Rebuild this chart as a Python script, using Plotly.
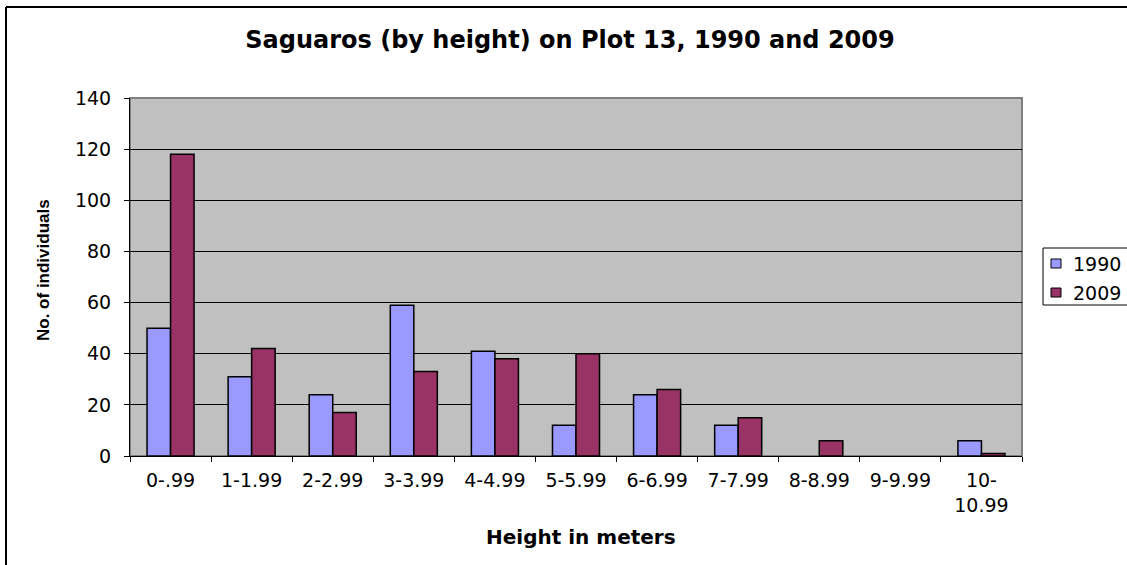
import plotly.graph_objects as go

categories = ["0-.99", "1-1.99", "2-2.99", "3-3.99", "4-4.99", "5-5.99",
              "6-6.99", "7-7.99", "8-8.99", "9-9.99", "10-<br>10.99"]
values_1990 = [50, 31, 24, 59, 41, 12, 24, 12, 0, 0, 6]
values_2009 = [118, 42, 17, 33, 38, 40, 26, 15, 6, 0, 1]
y_ticks = [0, 20, 40, 60, 80, 100, 120, 140]
series_names = ["1990", "2009"]
series_colors = ["#9999FF", "#993366"]

W, H = 1127, 565
L, R, T, B = 130, 105, 98, 109
pw, ph = W - L - R, H - T - B

def px(x):
    return (x - L) / pw

def py(y):
    return (H - B - y) / ph

WIDE = "DejaVu Sans, Verdana, sans-serif"
ARIAL = "Liberation Sans, Arial, sans-serif"

fig = go.Figure()
for name, vals, col in zip(series_names, [values_1990, values_2009], series_colors):
    # zero-count bins are drawn as empty (no outline stub), as in the original
    shown = [v if v != 0 else None for v in vals]
    fig.add_trace(go.Bar(name=name, x=categories, y=shown,
                         marker=dict(color=col, line=dict(color="black", width=1.5))))

shapes = [
    dict(type="rect", xref="paper", yref="paper", x0=0, x1=1, y0=0, y1=1,
         line=dict(color="#808080", width=2), fillcolor="rgba(0,0,0,0)", layer="below"),
    # outer chart border (left and top visible)
    dict(type="line", xref="paper", yref="paper", x0=px(6), x1=px(W + 20), y0=py(7), y1=py(7),
         line=dict(color="black", width=2)),
    dict(type="line", xref="paper", yref="paper", x0=px(6), x1=px(6), y0=py(7), y1=py(H + 20),
         line=dict(color="black", width=2)),
    # legend box
    dict(type="rect", xref="paper", yref="paper", x0=px(1043), x1=px(W + 20), y0=py(248), y1=py(305),
         line=dict(color="black", width=1), fillcolor="white"),
]
annotations = [
    dict(text="<b>Height in meters</b>", xref="paper", yref="paper", x=px(581), y=py(537),
         xanchor="center", yanchor="middle", showarrow=False, font=dict(family=WIDE, size=20)),
    dict(text="<b>No. of individuals</b>", xref="paper", yref="paper", x=px(43), y=py(270),
         xanchor="center", yanchor="middle", showarrow=False, textangle=-90,
         font=dict(family=ARIAL, size=17)),
]
for i, (name, col) in enumerate(zip(series_names, series_colors)):
    cy = 263.5 + i * 29
    shapes.append(dict(type="rect", xref="paper", yref="paper", x0=px(1051), x1=px(1061),
                       y0=py(cy - 4.5), y1=py(cy + 4.5),
                       line=dict(color="black", width=1), fillcolor=col))
    annotations.append(dict(text=name, xref="paper", yref="paper", x=px(1071), y=py(cy),
                            xanchor="left", yanchor="middle", showarrow=False,
                            font=dict(family=WIDE, size=19)))

fig.update_layout(
    width=W, height=H,
    margin=dict(l=L, r=R, t=T, b=B, autoexpand=False),
    paper_bgcolor="white",
    plot_bgcolor="#C0C0C0",
    font=dict(family=WIDE, color="black", size=19),
    barmode="group", bargap=0.42, bargroupgap=0,
    title=dict(text="<b>Saguaros (by height) on Plot 13, 1990 and 2009</b>",
               x=px(570), xref="paper", xanchor="center",
               y=1 - 40 / H, yanchor="middle",
               font=dict(family=WIDE, size=24)),
    showlegend=False,
    xaxis=dict(
        showline=True, linecolor="black", linewidth=1,
        ticks="outside", ticklen=5, tickcolor="black", tickson="boundaries",
        showgrid=False, ticklabelstandoff=7,
        tickfont=dict(size=19),
    ),
    yaxis=dict(
        range=[0, 140], tickvals=y_ticks,
        showline=True, linecolor="black", linewidth=1,
        ticks="outside", ticklen=5, tickcolor="black",
        showgrid=True, gridcolor="black", gridwidth=1,
        zeroline=False, ticklabelstandoff=9,
        tickfont=dict(size=19),
    ),
    shapes=shapes,
    annotations=annotations,
)

fig.write_html("out.html", config={"displayModeBar": False},
               post_script="document.body.style.margin='0';document.body.style.overflow='hidden';")
